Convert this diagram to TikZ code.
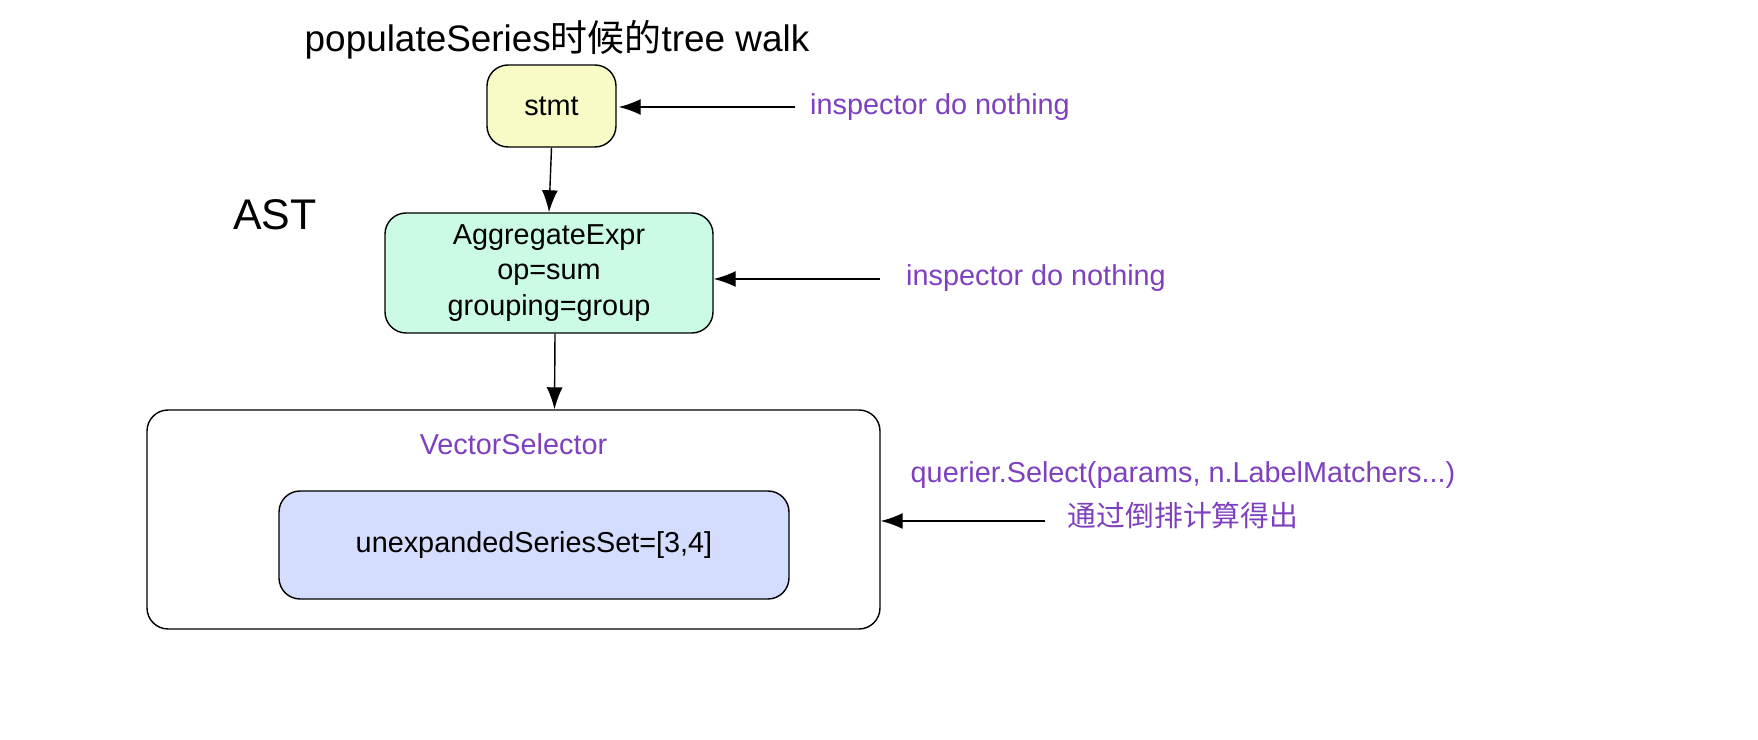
\documentclass[tikz,border=0pt]{standalone}
\usepackage{fontspec}
\setmainfont{Liberation Sans}
\newfontfamily\cjk{Noto Sans CJK SC}
\usetikzlibrary{positioning,arrows.meta}
\definecolor{note}{HTML}{7E40BF}
\begin{document}
\begin{tikzpicture}[
    box/.style={draw=black, rounded corners=6pt, align=center, font=\fontsize{8.2}{10}\selectfont},
    note/.style={text=note, font=\fontsize{8.2}{10}\selectfont, align=center},
    link/.style={-{Latex[length=2.2mm,width=1.6mm]}, thin},
]
\useasboundingbox (0,0) rectangle (17.58,-7.40);

% Title and side label
\node[font=\fontsize{10.5}{12}\selectfont] (title) at (5.57,-0.40) {populateSeries{\cjk 时候的}tree walk};
\node[font=\fontsize{12.2}{14}\selectfont] (ast) at (2.75,-2.15) {AST};

% Tree nodes
\node[box, fill={rgb,255:red,249;green,251;blue,198}, minimum width=1.29cm, minimum height=0.82cm] (stmt) at (5.515,-1.06) {stmt};
\node[box, fill={rgb,255:red,204;green,251;blue,229}, minimum width=3.28cm, minimum height=1.20cm] (agg) at (5.49,-2.73) {AggregateExpr\\op=sum\\grouping=group};
\node[box, fill=white, minimum width=7.33cm, minimum height=2.19cm] (vs) at (5.135,-5.195) {};
\node[note, below=0.12cm of vs.north] (vslabel) {VectorSelector};
\node[box, fill={rgb,255:red,212;green,221;blue,253}, minimum width=5.10cm, minimum height=1.08cm] (series) at (5.34,-5.45) {unexpandedSeriesSet=[3,4]};

% Notes
\node[note] (n1) at (9.40,-1.07) {inspector do nothing};
\node[note] (n2) at (10.36,-2.78) {inspector do nothing};
\node[note, font=\fontsize{8.2}{12.5}\selectfont] (n3) at (11.83,-4.95) {querier.Select(params, n.LabelMatchers...)\\{\cjk 通过倒排计算得出}};
\coordinate (c1) at (7.95,-1.07);
\coordinate (c2) at (8.80,-2.79);
\coordinate (c3) at (10.45,-5.21);

% Connections
\draw[link] (stmt.south) -- (agg.north);
\draw[link] ([xshift=0.6mm]agg.south) -- ([xshift=4.1mm]vs.north);
\draw[link] (c1) -- ([xshift=0.2mm]stmt.east |- c1);
\draw[link] (c2) -- (agg.east |- c2);
\draw[link] (c3) -- (vs.east |- c3);
\end{tikzpicture}
\end{document}
